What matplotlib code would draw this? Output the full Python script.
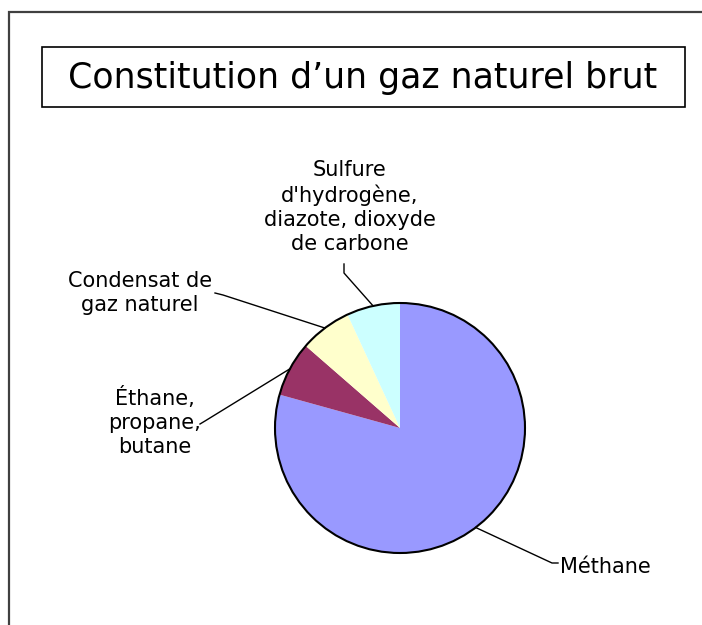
import numpy as np
import matplotlib.pyplot as plt
from matplotlib.patches import Circle, Rectangle

labels = ["Méthane", "Éthane,\npropane,\nbutane", "Condensat de\ngaz naturel",
          "Sulfure\nd'hydrogène,\ndiazote, dioxyde\nde carbone"]
values = [79.3, 7.1, 6.7, 6.9]
colors = ["#9999FF", "#993366", "#FFFFCC", "#CCFFFF"]

W, H = 702, 625
fig = plt.figure(figsize=(W / 100, H / 100), dpi=100)
ax = fig.add_axes([0, 0, 1, 1])

# outer frame (cut off at right and bottom)
ax.add_patch(Rectangle((9, -20), 720, H - 12 + 20, fill=False, edgecolor="#404040", lw=1.6))

# title box
ax.add_patch(Rectangle((42, H - 107), 643, 60, fill=False, edgecolor="black", lw=1.2))
ax.text(363, H - 78, "Constitution d\u2019un gaz naturel brut", ha="center", va="center",
        fontsize=25, color="black")

cx, cy, r = 400, H - 428, 125
wedges, _ = ax.pie(values, colors=colors, startangle=90, counterclock=False,
                   radius=r, center=(cx, cy), wedgeprops=dict(linewidth=0), frame=True)
ax.set_xlim(0, W)
ax.set_ylim(0, H)
ax.set_aspect("equal")
ax.axis("off")
ax.add_patch(Circle((cx, cy), r, fill=False, edgecolor="black", lw=1.5))

# label layout (pixels from top-left): elbow, line end, text anchor
layout = [
    dict(elbow=(552, 563), end=(558, 563), txt=(560, 567), ha="left"),
    dict(elbow=(205, 421), end=(200, 424), txt=(155, 422), ha="center"),
    dict(elbow=(223, 295), end=(215, 293), txt=(140, 293), ha="center"),
    dict(elbow=(344, 273), end=(344, 264), txt=(350, 207), ha="center"),
]

for w, lab, lay in zip(wedges, labels, layout):
    mid = np.deg2rad((w.theta1 + w.theta2) / 2)
    ex, ey = cx + r * np.cos(mid), cy + r * np.sin(mid)
    xs = [ex, lay["elbow"][0], lay["end"][0]]
    ys = [ey, H - lay["elbow"][1], H - lay["end"][1]]
    ax.plot(xs, ys, color="black", lw=1.0)
    ax.text(lay["txt"][0], H - lay["txt"][1], lab, ha=lay["ha"], va="center",
            multialignment="center", fontsize=15, linespacing=1.25, color="black")

fig.savefig("out.png", dpi=100)
